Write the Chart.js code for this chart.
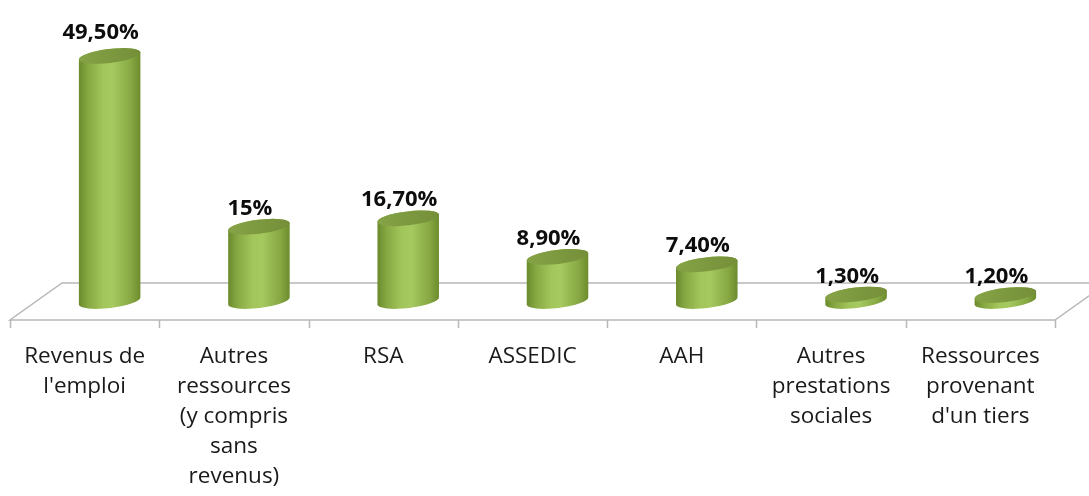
<!DOCTYPE html>
<html>
<head>
<meta charset="utf-8">
<script src="https://cdn.jsdelivr.net/npm/chart.js@4/dist/chart.umd.min.js"></script>
<style>
  html, body { margin: 0; padding: 0; background: #fff; }
  #wrap { width: 1089px; height: 496px; }
</style>
</head>
<body>
<div id="wrap"><canvas id="chart"></canvas></div>
<script>
// categories and values
const categories = [
    ['Revenus de', "l'emploi"],
    ['Autres', 'ressources', '(y compris', 'sans', 'revenus)'],
    'RSA',
    'ASSEDIC',
    'AAH',
    ['Autres', 'prestations', 'sociales'],
    ['Ressources', 'provenant', "d'un tiers"]
];
const values = [49.5, 15, 16.7, 8.9, 7.4, 1.3, 1.2];
const valueLabels = ['49,50%', '15%', '16,70%', '8,90%', '7,40%', '1,30%', '1,20%'];

const FONT = "'Open Sans', 'Noto Sans', sans-serif";

// 3D look: floor + cylinders drawn around the library's bar elements
const cylinders = {
    id: 'cylinders',
    beforeDatasetsDraw(chart) {
        const { ctx, chartArea } = chart;
        const L = chartArea.left, R = chartArea.right, base = chartArea.bottom;
        const front = base + 19, back = base - 18;
        const fdx = -25, bdx = 27;
        ctx.save();
        ctx.strokeStyle = '#b8b8b8';
        ctx.lineWidth = 1.5;
        ctx.beginPath();
        ctx.moveTo(L + fdx, front);
        ctx.lineTo(R + fdx, front);
        ctx.lineTo(R + bdx, back);
        ctx.lineTo(L + bdx, back);
        ctx.closePath();
        ctx.stroke();
        // tick marks on the front edge
        const step = (R - L) / categories.length;
        ctx.beginPath();
        for (let i = 0; i <= categories.length; i++) {
            const tx = Math.round(L + fdx + i * step) + 0.5;
            ctx.moveTo(tx, front);
            ctx.lineTo(tx, front + 8);
        }
        ctx.stroke();
        ctx.restore();
    },
    afterDatasetsDraw(chart) {
        const { ctx } = chart;
        const meta = chart.getDatasetMeta(0);
        meta.data.forEach((bar, i) => {
            const p = bar.getProps(['x', 'y', 'base', 'width'], true);
            const rx = p.width / 2, ry = 7, rot = -0.12;
            const top = p.y, bottom = p.base;

            const g = ctx.createLinearGradient(p.x - rx, 0, p.x + rx, 0);
            g.addColorStop(0, '#6a8a2b');
            g.addColorStop(0.15, '#86a843');
            g.addColorStop(0.4, '#a2c65b');
            g.addColorStop(0.55, '#a6c960');
            g.addColorStop(0.85, '#86a742');
            g.addColorStop(1, '#6c8b2d');

            ctx.save();
            ctx.beginPath();
            ctx.ellipse(p.x, bottom, rx, ry, rot, 0, Math.PI);
            ctx.ellipse(p.x, top, rx, ry, rot, Math.PI, 2 * Math.PI);
            ctx.closePath();
            ctx.fillStyle = g;
            ctx.fill();

            // top face
            const tg = ctx.createLinearGradient(p.x - rx, 0, p.x + rx, 0);
            tg.addColorStop(0, '#86a347');
            tg.addColorStop(1, '#748f38');
            ctx.beginPath();
            ctx.ellipse(p.x, top, rx, ry, rot, 0, 2 * Math.PI);
            ctx.fillStyle = tg;
            ctx.fill();

            // value label
            ctx.fillStyle = '#0d0d0d';
            ctx.font = 'bold 22px ' + FONT;
            ctx.textAlign = 'center';
            ctx.textBaseline = 'alphabetic';
            ctx.fillText(valueLabels[i], p.x - 9, top - (i === 0 ? 17 : 12));
            ctx.restore();
        });
    }
};

new Chart(document.getElementById('chart'), {
    type: 'bar',
    data: {
        labels: categories,
        datasets: [{
            data: values,
            backgroundColor: 'rgba(0,0,0,0)',
            borderWidth: 0,
            categoryPercentage: 1,
            barPercentage: 0.415
        }]
    },
    options: {
        responsive: true,
        maintainAspectRatio: false,
        animation: false,
        layout: { padding: { left: 35, right: 9, top: 4, bottom: 0 } },
        plugins: {
            legend: { display: false },
            tooltip: { enabled: false }
        },
        scales: {
            x: {
                grid: { display: false },
                border: { display: false },
                afterFit(scale) {
                    scale.height = 195;
                    scale.paddingLeft = 0;
                    scale.paddingRight = 0;
                },
                ticks: {
                    color: '#1a1a1a',
                    font: { family: FONT, size: 22.5, lineHeight: 1.33 },
                    labelOffset: -25,
                    padding: 33,
                    maxRotation: 0,
                    autoSkip: false
                }
            },
            y: {
                display: false,
                min: 0,
                max: 60
            }
        }
    },
    plugins: [cylinders]
});
</script>
</body>
</html>
